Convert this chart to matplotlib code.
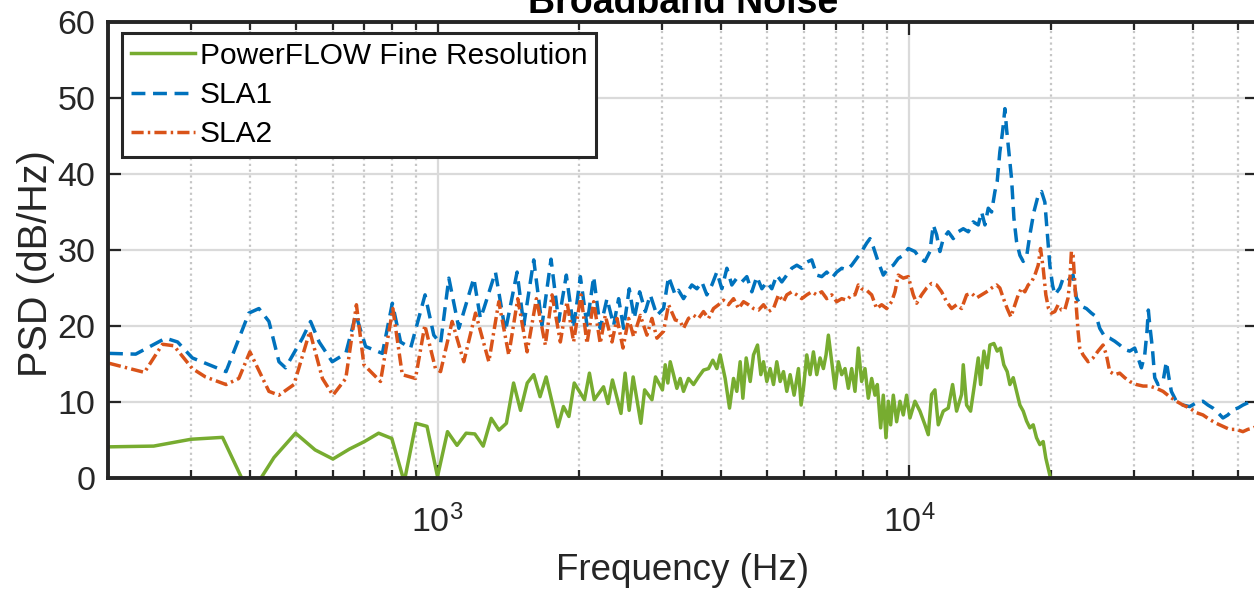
import matplotlib
matplotlib.use("Agg")
import matplotlib.pyplot as plt
from matplotlib.ticker import LogLocator, NullFormatter, MultipleLocator

plt.rcParams['font.family'] = ['Liberation Sans', 'DejaVu Sans']
plt.rcParams['mathtext.fontset'] = 'custom'
plt.rcParams['mathtext.rm'] = 'Liberation Sans'
plt.rcParams['mathtext.default'] = 'regular'

# PowerFLOW fine resolution spectrum (Hz, dB/Hz)
pf_freq = [200, 250, 300, 350, 400, 450, 500, 550, 600, 650,
           700, 750, 800, 850, 900, 950, 1000, 1050, 1100, 1150,
           1200, 1250, 1300, 1350, 1400, 1450, 1500, 1550, 1600, 1650,
           1700, 1750, 1800, 1850, 1900, 1950, 2050, 2100, 2150, 2250,
           2300, 2350, 2450, 2500, 2550, 2600, 2700, 2750, 2850, 2900,
           3000, 3041, 3080, 3116, 3167, 3219, 3272, 3325, 3407, 3492,
           3578, 3666, 3757, 3837, 3913, 3977, 4075, 4163, 4245, 4314,
           4385, 4443, 4516, 4605, 4680, 4773, 4851, 4914, 4995, 5077,
           5160, 5244, 5331, 5418, 5507, 5597, 5707, 5829, 5905, 5973,
           6071, 6170, 6271, 6374, 6478, 6584, 6670, 6747, 6857, 6970,
           7084, 7200, 7318, 7438, 7560, 7683, 7809, 7937, 8067, 8199,
           8334, 8471, 8568, 8709, 8822, 8938, 9040, 9144, 9264, 9415,
           9570, 9727, 9886, 10048, 10297, 10551, 10812, 10989, 11168, 11352,
           11539, 11824, 12116, 12375, 12619, 12931, 13037, 13251, 13512, 13802,
           14027, 14190, 14421, 14655, 14850, 15140, 15386, 15637, 15892, 16157,
           16372, 16640, 16913, 17191, 17473, 17759, 18049, 18344, 18646, 18951,
           19262, 19514, 19737, 19963, 20159]
pf_psd = [4.1, 4.2, 5.1, 5.35, -2.3, 2.7, 5.9, 3.7, 2.5, 3.8,
          4.8, 5.9, 5.2, -0.5, 7.2, 6.8, 0.2, 6.1, 4.3, 5.9,
          5.8, 4.2, 7.85, 6.3, 7.2, 12.5, 8.9, 12.5, 13.6, 10.7,
          13.3, 10.0, 6.75, 9.4, 8.1, 12.5, 10.3, 13.8, 10.3, 12.0,
          9.8, 12.9, 8.5, 13.8, 8.9, 13.3, 7.2, 11.6, 10.3, 13.3,
          11.6, 14.9, 12.5, 15.3, 13.6, 11.8, 13.1, 11.4, 13.1, 12.3,
          13.3, 14.2, 14.4, 15.5, 14.4, 16.2, 13.1, 9.2, 13.1, 11.4,
          15.3, 10.5, 15.8, 12.7, 16.2, 17.5, 13.6, 15.3, 12.7, 14.4,
          12.3, 15.3, 12.7, 14.0, 11.4, 13.6, 10.9, 14.4, 9.6, 11.8,
          16.2, 13.6, 16.6, 13.6, 15.8, 14.4, 16.2, 18.8, 15.3, 11.8,
          15.3, 13.6, 14.4, 11.8, 14.4, 11.4, 17.1, 12.7, 14.4, 10.5,
          13.1, 10.9, 12.3, 6.6, 10.9, 5.3, 10.1, 7.0, 10.9, 7.4,
          10.1, 8.3, 10.9, 7.9, 10.1, 8.8, 7.0, 5.7, 11.0, 11.6,
          7.0, 8.8, 9.2, 12.3, 8.8, 11.0, 14.9, 9.6, 8.8, 12.7,
          15.8, 12.3, 16.7, 14.5, 17.5, 17.7, 16.7, 17.1, 14.9, 14.0,
          12.3, 13.2, 11.4, 9.6, 8.8, 7.5, 6.6, 7.0, 5.3, 4.4,
          4.8, 2.6, 1.3, 0.0, -0.6]

# SLA1 spectrum
sla1_freq = [201, 229, 265, 281, 302, 356, 398, 418, 439, 461,
             476, 517, 538, 561, 598, 639, 671, 704, 764, 802,
             835, 877, 941, 982, 1015, 1057, 1110, 1194, 1233, 1254,
             1327, 1393, 1475, 1524, 1600, 1666, 1741, 1807, 1876, 1944,
             2009, 2075, 2144, 2214, 2288, 2364, 2422, 2482, 2551, 2614,
             2684, 2759, 2827, 2920, 3016, 3091, 3193, 3245, 3325, 3407,
             3463, 3549, 3637, 3726, 3819, 3913, 4010, 4109, 4210, 4314,
             4421, 4530, 4642, 4757, 4875, 4995, 5118, 5244, 5374, 5507,
             5642, 5782, 5924, 6071, 6220, 6374, 6531, 6692, 6857, 7027,
             7200, 7377, 7560, 7746, 7937, 8133, 8267, 8402, 8610, 8822,
             9040, 9264, 9492, 9727, 9967, 10297, 10551, 10812, 11078, 11260,
             11446, 11633, 11824, 12116, 12415, 12722, 13037, 13359, 13689, 14027,
             14258, 14491, 14730, 14971, 15216, 15386, 15587, 15792, 15979, 16103,
             16263, 16504, 16696, 16913, 17191, 17473, 17759, 18049, 18405, 18799,
             19106, 19419, 19642, 19898, 20159, 20390, 20891, 21235, 21401, 21928,
             22288, 22656, 23215, 23787, 24376, 24979, 25389, 26015, 26660, 27320,
             27993, 28683, 29393, 30119, 30616, 31118, 31629, 31981, 32192, 32406,
             32832, 33212, 33751, 34587, 35151, 35599, 36019, 36908, 38127, 39386,
             40687, 42032, 43070, 44132, 45220, 46336, 47480, 48652, 49851, 51083,
             52341, 53815, 55000]
sla1_psd = [16.4, 16.3, 18.4, 17.9, 15.8, 14.0, 21.7, 22.3, 20.6, 15.3,
            14.5, 18.4, 20.6, 17.9, 15.3, 16.4, 21.5, 17.3, 16.4, 23.0,
            17.9, 17.1, 24.1, 18.8, 17.7, 26.3, 19.7, 26.3, 21.0, 22.3,
            27.1, 19.3, 27.1, 20.1, 28.7, 20.1, 28.8, 20.6, 26.7, 19.7,
            26.5, 20.1, 26.5, 19.7, 23.6, 20.1, 23.6, 19.7, 24.9, 21.0,
            24.5, 21.9, 24.1, 21.4, 22.3, 26.5, 24.1, 24.7, 23.6, 24.7,
            25.4, 24.9, 25.8, 24.1, 25.4, 27.1, 24.9, 27.6, 25.4, 26.3,
            25.8, 26.5, 24.5, 26.5, 24.9, 25.8, 24.9, 26.7, 25.8, 26.7,
            27.6, 28.0, 27.6, 28.4, 28.7, 26.7, 26.5, 27.1, 26.3, 27.1,
            27.6, 27.4, 28.0, 28.9, 29.8, 30.9, 31.5, 30.4, 28.4, 26.7,
            27.6, 28.0, 28.9, 29.3, 30.2, 29.8, 28.9, 28.5, 29.8, 33.3,
            32.0, 29.8, 31.5, 32.4, 31.5, 32.4, 32.8, 32.4, 33.7, 33.3,
            35.0, 33.3, 35.5, 35.0, 37.7, 39.0, 42.9, 45.5, 48.6, 46.0,
            43.3, 39.4, 34.2, 31.1, 29.3, 28.5, 29.1, 32.0, 35.0, 37.2,
            37.7, 36.3, 32.4, 28.0, 25.4, 24.1, 25.0, 26.3, 26.5, 26.1,
            26.7, 23.7, 22.6, 22.3, 21.7, 21.2, 19.7, 18.6, 18.4, 18.0,
            17.5, 16.9, 16.7, 17.1, 15.8, 14.5, 16.2, 19.3, 22.1, 20.2,
            17.1, 13.2, 12.3, 12.7, 15.3, 13.2, 11.4, 10.1, 9.6, 9.4,
            9.9, 10.1, 9.6, 9.2, 8.6, 7.9, 8.3, 9.0, 9.2, 9.6,
            9.9, 10.3, 10.4]

# SLA2 spectrum
sla2_freq = [201, 239, 261, 276, 302, 322, 356, 379, 400, 439,
             461, 496, 536, 570, 600, 639, 673, 698, 757, 804,
             842, 898, 940, 990, 1015, 1074, 1137, 1204, 1285, 1349,
             1416, 1480, 1549, 1621, 1693, 1750, 1822, 1882, 1944, 2015,
             2075, 2144, 2214, 2269, 2345, 2403, 2474, 2543, 2606, 2692,
             2781, 2850, 2920, 3016, 3091, 3193, 3272, 3325, 3407, 3492,
             3578, 3666, 3757, 3850, 3945, 4042, 4142, 4245, 4350, 4457,
             4567, 4680, 4796, 4914, 5035, 5160, 5287, 5418, 5507, 5642,
             5782, 5924, 6071, 6220, 6374, 6531, 6692, 6857, 7027, 7200,
             7377, 7560, 7683, 7809, 7937, 8133, 8334, 8540, 8751, 8967,
             9189, 9340, 9492, 9727, 9967, 10213, 10382, 10638, 10899, 11168,
             11446, 11728, 12017, 12315, 12619, 12931, 13251, 13578, 13914, 14258,
             14610, 14971, 15342, 15587, 15848, 16157, 16450, 16779, 17051, 17331,
             17615, 17904, 18197, 18495, 18799, 19014, 19262, 19514, 19769, 20061,
             20390, 20722, 21062, 21401, 21751, 21928, 22107, 22288, 22471, 22656,
             22841, 23026, 23404, 23983, 24575, 25182, 25805, 26228, 26660, 27320,
             27993, 28683, 29393, 30368, 31371, 32406, 33479, 34587, 35726, 36908,
             38127, 39386, 40687, 42032, 43418, 44854, 46336, 47869, 49447, 51083,
             52341, 53815, 55000]
sla2_psd = [15.1, 13.9, 17.6, 17.4, 14.4, 13.3, 12.3, 13.1, 16.6, 11.4,
            10.9, 12.3, 19.3, 13.1, 10.9, 13.1, 22.8, 14.9, 12.7, 22.3,
            13.6, 13.1, 20.1, 14.4, 14.0, 20.6, 15.3, 21.7, 15.3, 23.2,
            16.2, 23.6, 16.6, 23.6, 17.5, 24.1, 17.9, 23.2, 17.9, 24.1,
            17.7, 23.2, 17.7, 21.4, 17.9, 21.0, 17.1, 21.0, 18.6, 21.4,
            18.8, 21.0, 18.4, 19.3, 22.8, 20.8, 20.6, 19.7, 21.0, 21.4,
            21.0, 21.9, 21.0, 22.3, 22.8, 23.4, 22.8, 23.6, 22.3, 23.2,
            22.8, 22.3, 22.1, 22.8, 21.9, 22.3, 24.1, 23.2, 24.1, 24.5,
            24.1, 23.6, 24.1, 24.5, 24.1, 24.5, 23.6, 24.1, 23.2, 23.6,
            23.4, 24.1, 24.1, 25.4, 24.9, 24.7, 24.1, 22.3, 22.8, 22.3,
            23.2, 24.5, 26.7, 26.3, 26.5, 24.1, 23.0, 24.1, 25.0, 25.6,
            25.4, 24.5, 23.2, 22.3, 22.8, 22.3, 24.1, 24.3, 23.7, 24.1,
            24.5, 25.0, 25.4, 25.0, 23.7, 22.3, 21.2, 22.8, 24.1, 25.0,
            24.5, 25.4, 25.8, 26.7, 28.0, 30.2, 27.6, 24.1, 22.3, 21.7,
            21.9, 22.8, 22.1, 22.1, 23.7, 25.8, 29.8, 29.3, 25.8, 22.3,
            19.3, 17.1, 16.2, 15.3, 15.8, 16.7, 17.5, 16.2, 14.0, 13.6,
            13.8, 13.2, 12.7, 12.3, 12.1, 12.1, 11.8, 11.4, 10.7, 10.1,
            9.6, 9.2, 8.6, 8.3, 7.7, 7.2, 6.8, 6.4, 6.4, 6.1,
            6.4, 6.6, 6.9]

fig = plt.figure(figsize=(12.54, 5.9), dpi=100)
ax = fig.add_axes([0.0861, 0.1898, 0.9171, 0.7729])

ax.plot(pf_freq, pf_psd, color='#77AC30', lw=2.5, label='PowerFLOW Fine Resolution')
ax.plot(sla1_freq, sla1_psd, color='#0072BD', lw=2.5, dashes=(4, 2.2), label='SLA1')
ax.plot(sla2_freq, sla2_psd, color='#D95319', lw=2.5, dashes=(3.5, 1.2, 0.7, 1.2), label='SLA2')

ax.set_xscale('log')
ax.set_xlim(200, 55000)
ax.set_ylim(0, 60)
ax.yaxis.set_major_locator(MultipleLocator(10))
ax.xaxis.set_major_locator(LogLocator(base=10))
ax.xaxis.set_minor_locator(LogLocator(base=10, subs=range(2, 10)))
ax.xaxis.set_minor_formatter(NullFormatter())

ax.set_axisbelow(True)
ax.grid(which='major', color='#dadada', lw=1.6, ls='-')
ax.grid(which='minor', axis='x', color='#c6c6c6', lw=1.6, ls=(0, (1, 1.6)))

for s in ax.spines.values():
    s.set_linewidth(2.8)
    s.set_color('#262626')
ax.tick_params(which='both', direction='in', top=True, right=True, color='#262626',
               width=1.6, labelsize=24.5, labelcolor='#262626')
ax.tick_params(which='major', length=9.5)
ax.tick_params(which='minor', length=5.5)
ax.tick_params(axis='y', pad=9)
ax.tick_params(axis='x', pad=19)

ax.set_title('Broadband Noise', fontsize=27, fontweight='bold', color='#000000', pad=6.8)
ax.set_xlabel('Frequency (Hz)', fontsize=26.5, color='#262626', labelpad=10)
ax.set_ylabel('PSD (dB/Hz)', fontsize=28.5, color='#262626')
ax.yaxis.set_label_coords(-0.046, 0.47)

leg = ax.legend(loc='upper left', bbox_to_anchor=(0.0122, 0.976), fontsize=21.5,
                frameon=True, fancybox=False, framealpha=1, edgecolor='#262626',
                borderpad=0.3, labelspacing=0.37, handlelength=2.15,
                handletextpad=0.15, borderaxespad=0)
leg.get_frame().set_linewidth(2.2)

fig.savefig('out.png', dpi=100)
